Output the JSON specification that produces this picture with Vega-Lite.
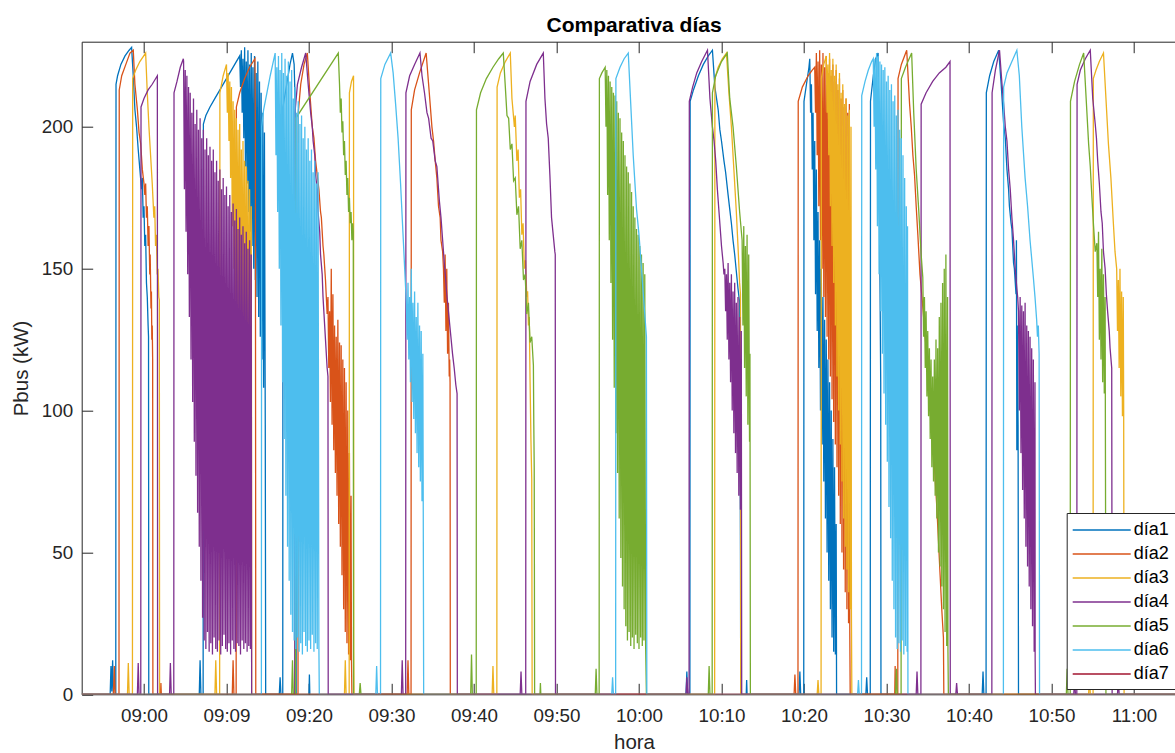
{
"$schema":"https://vega.github.io/schema/vega-lite/v6.json",
"usermeta":{"embedOptions":{"actions":false}},
"autosize":{"type":"none"},
"padding":{"left":81.7,"top":41.7,"right":0,"bottom":58.7},
"width":1093.3,
"height":652.6,
"background":"white",
"title":{"text":"Comparativa días","fontSize":21,"fontWeight":"bold","font":"Liberation Sans","color":"#000000","anchor":"middle","frame":"group","baseline":"alphabetic","offset":11.2,"dx":5.7,"dy":22.5},
"data":{"values":[
{"s":"día1","t":-7.55,"p":0},{"s":"día1","t":-4.1,"p":0},{"s":"día1","t":-4.0,"p":10},{"s":"día1","t":-3.9,"p":1},{"s":"día1","t":-3.8,"p":12},{"s":"día1","t":-3.7,"p":0},
{"s":"día1","t":-3.42,"p":0},{"s":"día1","t":-3.39,"p":215},{"s":"día1","t":-3.2,"p":218},{"s":"día1","t":-2.8,"p":222},{"s":"día1","t":-2.3,"p":225},{"s":"día1","t":-1.8,"p":227},{"s":"día1","t":-1.5,"p":228},{"s":"día1","t":-1.3,"p":218},{"s":"día1","t":-1.1,"p":206},{"s":"día1","t":-0.9,"p":200},{"s":"día1","t":-0.7,"p":192},{"s":"día1","t":-0.5,"p":185},{"s":"día1","t":-0.3,"p":178},{"s":"día1","t":-0.2,"p":182},{"s":"día1","t":-0.1,"p":168},{"s":"día1","t":0.0,"p":172},{"s":"día1","t":0.1,"p":158},{"s":"día1","t":0.2,"p":162},{"s":"día1","t":0.3,"p":145},{"s":"día1","t":0.4,"p":140},{"s":"día1","t":0.5,"p":130},{"s":"día1","t":0.55,"p":126},{"s":"día1","t":0.58,"p":0},
{"s":"día1","t":6.7,"p":0},{"s":"día1","t":6.8,"p":12},{"s":"día1","t":6.9,"p":0},
{"s":"día1","t":7.17,"p":0},{"s":"día1","t":7.2,"p":201},{"s":"día1","t":7.5,"p":204},{"s":"día1","t":8.0,"p":207},{"s":"día1","t":8.6,"p":210},{"s":"día1","t":9.2,"p":213},{"s":"día1","t":9.8,"p":216},{"s":"día1","t":10.4,"p":219},{"s":"día1","t":11.0,"p":222},{"s":"día1","t":11.6,"p":225},{"s":"día1","t":11.7,"p":214},{"s":"día1","t":11.8,"p":227},{"s":"día1","t":11.9,"p":205},{"s":"día1","t":12.0,"p":224},{"s":"día1","t":12.1,"p":196},{"s":"día1","t":12.2,"p":228},{"s":"día1","t":12.3,"p":186},{"s":"día1","t":12.4,"p":223},{"s":"día1","t":12.5,"p":180},{"s":"día1","t":12.6,"p":227},{"s":"día1","t":12.7,"p":170},{"s":"día1","t":12.8,"p":222},{"s":"día1","t":12.9,"p":163},{"s":"día1","t":13.0,"p":226},{"s":"día1","t":13.1,"p":158},{"s":"día1","t":13.2,"p":221},{"s":"día1","t":13.3,"p":150},{"s":"día1","t":13.4,"p":225},{"s":"día1","t":13.5,"p":146},{"s":"día1","t":13.6,"p":219},{"s":"día1","t":13.7,"p":140},{"s":"día1","t":13.8,"p":223},{"s":"día1","t":13.9,"p":133},{"s":"día1","t":14.0,"p":216},{"s":"día1","t":14.1,"p":126},{"s":"día1","t":14.2,"p":212},{"s":"día1","t":14.3,"p":118},{"s":"día1","t":14.4,"p":205},{"s":"día1","t":14.5,"p":108},{"s":"día1","t":14.6,"p":198},{"s":"día1","t":14.7,"p":95},{"s":"día1","t":14.75,"p":0},
{"s":"día1","t":16.4,"p":0},{"s":"día1","t":16.5,"p":6},{"s":"día1","t":16.6,"p":0},
{"s":"día1","t":16.82,"p":0},{"s":"día1","t":16.85,"p":207},{"s":"día1","t":17.3,"p":215},{"s":"día1","t":17.7,"p":222},{"s":"día1","t":18.0,"p":226},{"s":"día1","t":18.2,"p":222},{"s":"día1","t":18.4,"p":200},{"s":"día1","t":18.45,"p":0},
{"s":"día1","t":20.0,"p":0},{"s":"día1","t":20.05,"p":7},{"s":"día1","t":20.1,"p":0},
{"s":"día1","t":65.7,"p":0},{"s":"día1","t":65.8,"p":8},{"s":"día1","t":65.9,"p":0},
{"s":"día1","t":66.17,"p":0},{"s":"día1","t":66.2,"p":209},{"s":"día1","t":66.6,"p":213},{"s":"día1","t":67.2,"p":218},{"s":"día1","t":67.8,"p":222},{"s":"día1","t":68.4,"p":225},{"s":"día1","t":68.9,"p":227},{"s":"día1","t":69.2,"p":214},{"s":"día1","t":69.6,"p":206},{"s":"día1","t":69.8,"p":199},{"s":"día1","t":70.0,"p":195},{"s":"día1","t":70.3,"p":188},{"s":"día1","t":70.5,"p":184},{"s":"día1","t":70.8,"p":176},{"s":"día1","t":71.0,"p":171},{"s":"día1","t":71.2,"p":166},{"s":"día1","t":71.4,"p":160},{"s":"día1","t":71.6,"p":155},{"s":"día1","t":71.8,"p":149},{"s":"día1","t":72.0,"p":143},{"s":"día1","t":72.2,"p":138},{"s":"día1","t":72.25,"p":95},{"s":"día1","t":72.3,"p":50},{"s":"día1","t":72.33,"p":0},
{"s":"día1","t":73.0,"p":0},{"s":"día1","t":73.05,"p":5},{"s":"día1","t":73.1,"p":0},
{"s":"día1","t":79.4,"p":0},{"s":"día1","t":79.5,"p":8},{"s":"día1","t":79.6,"p":0},
{"s":"día1","t":79.97,"p":0},{"s":"día1","t":80.0,"p":209},{"s":"día1","t":80.3,"p":215},{"s":"día1","t":80.6,"p":221},{"s":"día1","t":80.7,"p":224},{"s":"día1","t":80.8,"p":205},{"s":"día1","t":80.9,"p":215},{"s":"día1","t":81.0,"p":185},{"s":"día1","t":81.1,"p":205},{"s":"día1","t":81.2,"p":160},{"s":"día1","t":81.3,"p":195},{"s":"día1","t":81.4,"p":141},{"s":"día1","t":81.5,"p":185},{"s":"día1","t":81.6,"p":128},{"s":"día1","t":81.7,"p":170},{"s":"día1","t":81.8,"p":115},{"s":"día1","t":81.9,"p":160},{"s":"día1","t":82.0,"p":100},{"s":"día1","t":82.1,"p":150},{"s":"día1","t":82.2,"p":88},{"s":"día1","t":82.3,"p":140},{"s":"día1","t":82.4,"p":75},{"s":"día1","t":82.5,"p":132},{"s":"día1","t":82.6,"p":62},{"s":"día1","t":82.7,"p":125},{"s":"día1","t":82.8,"p":50},{"s":"día1","t":82.9,"p":118},{"s":"día1","t":83.0,"p":40},{"s":"día1","t":83.1,"p":110},{"s":"día1","t":83.2,"p":30},{"s":"día1","t":83.3,"p":100},{"s":"día1","t":83.4,"p":20},{"s":"día1","t":83.5,"p":90},{"s":"día1","t":83.6,"p":15},{"s":"día1","t":83.7,"p":80},{"s":"día1","t":83.8,"p":14},{"s":"día1","t":83.9,"p":60},{"s":"día1","t":83.95,"p":0},
{"s":"día1","t":87.5,"p":0},{"s":"día1","t":87.6,"p":6},{"s":"día1","t":87.7,"p":0},
{"s":"día1","t":88.03,"p":0},{"s":"día1","t":88.06,"p":209},{"s":"día1","t":88.4,"p":218},{"s":"día1","t":88.7,"p":224},{"s":"día1","t":88.98,"p":226},{"s":"día1","t":89.1,"p":190},{"s":"día1","t":89.2,"p":150},{"s":"día1","t":89.3,"p":110},{"s":"día1","t":89.33,"p":0},
{"s":"día1","t":101.6,"p":0},{"s":"día1","t":101.7,"p":8},{"s":"día1","t":101.8,"p":0},
{"s":"día1","t":102.07,"p":0},{"s":"día1","t":102.1,"p":212},{"s":"día1","t":102.5,"p":218},{"s":"día1","t":103.0,"p":223},{"s":"día1","t":103.6,"p":227},{"s":"día1","t":103.9,"p":215},{"s":"día1","t":104.2,"p":201},{"s":"día1","t":104.4,"p":196},{"s":"día1","t":104.6,"p":185},{"s":"día1","t":104.8,"p":178},{"s":"día1","t":104.9,"p":172},{"s":"día1","t":105.1,"p":166},{"s":"día1","t":105.2,"p":164},{"s":"día1","t":105.4,"p":152},{"s":"día1","t":105.5,"p":150},{"s":"día1","t":105.7,"p":141},{"s":"día1","t":105.75,"p":160},{"s":"día1","t":105.8,"p":86},{"s":"día1","t":105.85,"p":130},{"s":"día1","t":105.95,"p":95},{"s":"día1","t":106.0,"p":0},
{"s":"día1","t":124.97,"p":0},

{"s":"día2","t":-7.55,"p":0},{"s":"día2","t":-3.7,"p":0},{"s":"día2","t":-3.6,"p":10},{"s":"día2","t":-3.5,"p":0},
{"s":"día2","t":-3.03,"p":0},{"s":"día2","t":-3.0,"p":213},{"s":"día2","t":-2.7,"p":218},{"s":"día2","t":-2.2,"p":222},{"s":"día2","t":-1.7,"p":226},{"s":"día2","t":-1.3,"p":227},{"s":"día2","t":-1.1,"p":215},{"s":"día2","t":-0.8,"p":206},{"s":"día2","t":-0.6,"p":198},{"s":"día2","t":-0.4,"p":194},{"s":"día2","t":-0.2,"p":185},{"s":"día2","t":0.0,"p":180},{"s":"día2","t":0.1,"p":176},{"s":"día2","t":0.2,"p":180},{"s":"día2","t":0.3,"p":168},{"s":"día2","t":0.4,"p":172},{"s":"día2","t":0.5,"p":158},{"s":"día2","t":0.6,"p":165},{"s":"día2","t":0.7,"p":148},{"s":"día2","t":0.75,"p":155},{"s":"día2","t":0.85,"p":136},{"s":"día2","t":0.9,"p":142},{"s":"día2","t":0.95,"p":125},{"s":"día2","t":1.0,"p":130},{"s":"día2","t":1.05,"p":118},{"s":"día2","t":1.08,"p":0},
{"s":"día2","t":2.0,"p":0},{"s":"día2","t":2.05,"p":4},{"s":"día2","t":2.1,"p":0},
{"s":"día2","t":10.7,"p":0},{"s":"día2","t":10.8,"p":12},{"s":"día2","t":10.9,"p":0},
{"s":"día2","t":11.17,"p":0},{"s":"día2","t":11.2,"p":207},{"s":"día2","t":11.6,"p":212},{"s":"día2","t":12.2,"p":217},{"s":"día2","t":12.8,"p":221},{"s":"día2","t":13.45,"p":224},{"s":"día2","t":13.5,"p":200},{"s":"día2","t":13.55,"p":0},
{"s":"día2","t":18.67,"p":0},{"s":"día2","t":18.7,"p":205},{"s":"día2","t":19.0,"p":215},{"s":"día2","t":19.4,"p":222},{"s":"día2","t":19.8,"p":226},{"s":"día2","t":20.1,"p":212},{"s":"día2","t":20.4,"p":200},{"s":"día2","t":20.6,"p":196},{"s":"día2","t":20.8,"p":188},{"s":"día2","t":21.0,"p":183},{"s":"día2","t":21.2,"p":178},{"s":"día2","t":21.4,"p":170},{"s":"día2","t":21.5,"p":168},{"s":"día2","t":21.7,"p":158},{"s":"día2","t":21.8,"p":155},{"s":"día2","t":22.0,"p":146},{"s":"día2","t":22.1,"p":140},{"s":"día2","t":22.2,"p":134},{"s":"día2","t":22.3,"p":140},{"s":"día2","t":22.4,"p":115},{"s":"día2","t":22.5,"p":135},{"s":"día2","t":22.6,"p":103},{"s":"día2","t":22.7,"p":150},{"s":"día2","t":22.8,"p":95},{"s":"día2","t":22.9,"p":141},{"s":"día2","t":23.0,"p":86},{"s":"día2","t":23.1,"p":130},{"s":"día2","t":23.2,"p":78},{"s":"día2","t":23.3,"p":126},{"s":"día2","t":23.4,"p":70},{"s":"día2","t":23.5,"p":132},{"s":"día2","t":23.6,"p":60},{"s":"día2","t":23.7,"p":124},{"s":"día2","t":23.8,"p":52},{"s":"día2","t":23.9,"p":123},{"s":"día2","t":24.0,"p":42},{"s":"día2","t":24.1,"p":118},{"s":"día2","t":24.2,"p":30},{"s":"día2","t":24.3,"p":115},{"s":"día2","t":24.4,"p":22},{"s":"día2","t":24.5,"p":110},{"s":"día2","t":24.6,"p":18},{"s":"día2","t":24.7,"p":100},{"s":"día2","t":24.8,"p":14},{"s":"día2","t":24.9,"p":85},{"s":"día2","t":25.0,"p":12},{"s":"día2","t":25.1,"p":70},{"s":"día2","t":25.15,"p":12},{"s":"día2","t":25.2,"p":0},
{"s":"día2","t":31.9,"p":0},{"s":"día2","t":32.0,"p":12},{"s":"día2","t":32.1,"p":0},
{"s":"día2","t":32.37,"p":0},{"s":"día2","t":32.4,"p":206},{"s":"día2","t":32.8,"p":213},{"s":"día2","t":33.4,"p":219},{"s":"día2","t":34.2,"p":226},{"s":"día2","t":34.5,"p":215},{"s":"día2","t":34.9,"p":200},{"s":"día2","t":35.1,"p":195},{"s":"día2","t":35.3,"p":188},{"s":"día2","t":35.5,"p":182},{"s":"día2","t":35.7,"p":172},{"s":"día2","t":35.9,"p":168},{"s":"día2","t":36.0,"p":160},{"s":"día2","t":36.2,"p":156},{"s":"día2","t":36.3,"p":150},{"s":"día2","t":36.4,"p":138},{"s":"día2","t":36.5,"p":155},{"s":"día2","t":36.6,"p":128},{"s":"día2","t":36.7,"p":150},{"s":"día2","t":36.8,"p":120},{"s":"día2","t":36.9,"p":138},{"s":"día2","t":37.0,"p":112},{"s":"día2","t":37.05,"p":118},{"s":"día2","t":37.1,"p":110},{"s":"día2","t":37.13,"p":0},
{"s":"día2","t":78.8,"p":0},{"s":"día2","t":78.9,"p":7},{"s":"día2","t":79.0,"p":0},
{"s":"día2","t":79.27,"p":0},{"s":"día2","t":79.3,"p":209},{"s":"día2","t":79.8,"p":214},{"s":"día2","t":80.5,"p":218},{"s":"día2","t":81.0,"p":220},{"s":"día2","t":81.3,"p":221},{"s":"día2","t":81.4,"p":205},{"s":"día2","t":81.5,"p":226},{"s":"día2","t":81.6,"p":190},{"s":"día2","t":81.7,"p":223},{"s":"día2","t":81.8,"p":172},{"s":"día2","t":81.9,"p":227},{"s":"día2","t":82.0,"p":160},{"s":"día2","t":82.1,"p":222},{"s":"día2","t":82.2,"p":150},{"s":"día2","t":82.3,"p":226},{"s":"día2","t":82.4,"p":140},{"s":"día2","t":82.5,"p":221},{"s":"día2","t":82.6,"p":133},{"s":"día2","t":82.7,"p":225},{"s":"día2","t":82.8,"p":126},{"s":"día2","t":82.9,"p":219},{"s":"día2","t":83.0,"p":118},{"s":"día2","t":83.1,"p":224},{"s":"día2","t":83.2,"p":112},{"s":"día2","t":83.3,"p":218},{"s":"día2","t":83.4,"p":104},{"s":"día2","t":83.5,"p":222},{"s":"día2","t":83.6,"p":96},{"s":"día2","t":83.7,"p":216},{"s":"día2","t":83.8,"p":88},{"s":"día2","t":83.9,"p":220},{"s":"día2","t":84.0,"p":80},{"s":"día2","t":84.1,"p":213},{"s":"día2","t":84.2,"p":70},{"s":"día2","t":84.3,"p":217},{"s":"día2","t":84.4,"p":60},{"s":"día2","t":84.5,"p":210},{"s":"día2","t":84.6,"p":50},{"s":"día2","t":84.7,"p":213},{"s":"día2","t":84.8,"p":44},{"s":"día2","t":84.9,"p":207},{"s":"día2","t":85.0,"p":36},{"s":"día2","t":85.1,"p":210},{"s":"día2","t":85.2,"p":30},{"s":"día2","t":85.3,"p":205},{"s":"día2","t":85.4,"p":25},{"s":"día2","t":85.5,"p":208},{"s":"día2","t":85.55,"p":22},{"s":"día2","t":85.6,"p":0},
{"s":"día2","t":91.0,"p":0},{"s":"día2","t":91.05,"p":10},{"s":"día2","t":91.1,"p":0},
{"s":"día2","t":91.37,"p":0},{"s":"día2","t":91.4,"p":217},{"s":"día2","t":91.8,"p":222},{"s":"día2","t":92.45,"p":227},{"s":"día2","t":92.8,"p":208},{"s":"día2","t":93.0,"p":200},{"s":"día2","t":93.2,"p":190},{"s":"día2","t":93.4,"p":183},{"s":"día2","t":93.6,"p":172},{"s":"día2","t":93.8,"p":162},{"s":"día2","t":94.06,"p":148},{"s":"día2","t":94.3,"p":140},{"s":"día2","t":94.5,"p":133},{"s":"día2","t":94.8,"p":122},{"s":"día2","t":95.0,"p":115},{"s":"día2","t":95.2,"p":106},{"s":"día2","t":95.4,"p":100},{"s":"día2","t":95.7,"p":88},{"s":"día2","t":95.9,"p":76},{"s":"día2","t":96.1,"p":66},{"s":"día2","t":96.3,"p":54},{"s":"día2","t":96.5,"p":42},{"s":"día2","t":96.7,"p":30},{"s":"día2","t":96.9,"p":20},{"s":"día2","t":96.95,"p":0},
{"s":"día2","t":124.97,"p":0},

{"s":"día3","t":-7.55,"p":0},{"s":"día3","t":-2.0,"p":0},{"s":"día3","t":-1.9,"p":11},{"s":"día3","t":-1.8,"p":0},
{"s":"día3","t":-1.4,"p":0},{"s":"día3","t":-1.37,"p":217},{"s":"día3","t":-1.0,"p":220},{"s":"día3","t":-0.5,"p":223},{"s":"día3","t":0.2,"p":226},{"s":"día3","t":0.4,"p":212},{"s":"día3","t":0.6,"p":200},{"s":"día3","t":0.8,"p":190},{"s":"día3","t":1.0,"p":180},{"s":"día3","t":1.2,"p":168},{"s":"día3","t":1.3,"p":172},{"s":"día3","t":1.4,"p":158},{"s":"día3","t":1.5,"p":162},{"s":"día3","t":1.6,"p":148},{"s":"día3","t":1.7,"p":150},{"s":"día3","t":1.8,"p":140},{"s":"día3","t":1.86,"p":139},{"s":"día3","t":1.89,"p":0},
{"s":"día3","t":8.6,"p":0},{"s":"día3","t":8.7,"p":12},{"s":"día3","t":8.8,"p":0},
{"s":"día3","t":9.17,"p":0},{"s":"día3","t":9.2,"p":212},{"s":"día3","t":9.6,"p":218},{"s":"día3","t":10.0,"p":222},{"s":"día3","t":10.1,"p":205},{"s":"día3","t":10.2,"p":219},{"s":"día3","t":10.3,"p":195},{"s":"día3","t":10.4,"p":216},{"s":"día3","t":10.5,"p":182},{"s":"día3","t":10.6,"p":214},{"s":"día3","t":10.7,"p":165},{"s":"día3","t":10.8,"p":209},{"s":"día3","t":10.9,"p":150},{"s":"día3","t":11.0,"p":206},{"s":"día3","t":11.1,"p":139},{"s":"día3","t":11.2,"p":203},{"s":"día3","t":11.3,"p":134},{"s":"día3","t":11.4,"p":199},{"s":"día3","t":11.5,"p":128},{"s":"día3","t":11.6,"p":201},{"s":"día3","t":11.7,"p":125},{"s":"día3","t":11.8,"p":192},{"s":"día3","t":11.9,"p":121},{"s":"día3","t":12.0,"p":195},{"s":"día3","t":12.1,"p":117},{"s":"día3","t":12.2,"p":188},{"s":"día3","t":12.3,"p":112},{"s":"día3","t":12.4,"p":186},{"s":"día3","t":12.5,"p":110},{"s":"día3","t":12.6,"p":181},{"s":"día3","t":12.7,"p":108},{"s":"día3","t":12.8,"p":178},{"s":"día3","t":12.9,"p":106},{"s":"día3","t":13.0,"p":172},{"s":"día3","t":13.03,"p":106},{"s":"día3","t":13.05,"p":0},
{"s":"día3","t":24.3,"p":0},{"s":"día3","t":24.4,"p":12},{"s":"día3","t":24.5,"p":0},
{"s":"día3","t":24.87,"p":0},{"s":"día3","t":24.9,"p":212},{"s":"día3","t":25.15,"p":216},{"s":"día3","t":25.4,"p":218},{"s":"día3","t":25.43,"p":15},{"s":"día3","t":25.46,"p":0},
{"s":"día3","t":42.2,"p":0},{"s":"día3","t":42.3,"p":10},{"s":"día3","t":42.4,"p":0},
{"s":"día3","t":42.77,"p":0},{"s":"día3","t":42.8,"p":214},{"s":"día3","t":43.2,"p":219},{"s":"día3","t":43.8,"p":223},{"s":"día3","t":44.4,"p":226},{"s":"día3","t":44.6,"p":210},{"s":"día3","t":44.9,"p":200},{"s":"día3","t":45.0,"p":204},{"s":"día3","t":45.2,"p":188},{"s":"día3","t":45.35,"p":192},{"s":"día3","t":45.5,"p":175},{"s":"día3","t":45.65,"p":178},{"s":"día3","t":45.8,"p":162},{"s":"día3","t":45.95,"p":166},{"s":"día3","t":46.1,"p":150},{"s":"día3","t":46.25,"p":153},{"s":"día3","t":46.4,"p":140},{"s":"día3","t":46.5,"p":142},{"s":"día3","t":46.6,"p":130},{"s":"día3","t":46.7,"p":133},{"s":"día3","t":46.8,"p":110},{"s":"día3","t":46.9,"p":90},{"s":"día3","t":47.0,"p":76},{"s":"día3","t":47.05,"p":0},
{"s":"día3","t":69.17,"p":0},{"s":"día3","t":69.2,"p":217},{"s":"día3","t":69.6,"p":221},{"s":"día3","t":70.1,"p":224},{"s":"día3","t":70.6,"p":226},{"s":"día3","t":70.9,"p":212},{"s":"día3","t":71.2,"p":200},{"s":"día3","t":71.5,"p":185},{"s":"día3","t":71.8,"p":170},{"s":"día3","t":72.0,"p":158},{"s":"día3","t":72.2,"p":145},{"s":"día3","t":72.3,"p":141},{"s":"día3","t":72.33,"p":0},
{"s":"día3","t":81.6,"p":0},{"s":"día3","t":81.7,"p":5},{"s":"día3","t":81.8,"p":0},
{"s":"día3","t":82.07,"p":0},{"s":"día3","t":82.1,"p":217},{"s":"día3","t":82.4,"p":222},{"s":"día3","t":82.7,"p":225},{"s":"día3","t":82.8,"p":205},{"s":"día3","t":82.9,"p":222},{"s":"día3","t":83.0,"p":190},{"s":"día3","t":83.1,"p":226},{"s":"día3","t":83.2,"p":172},{"s":"día3","t":83.3,"p":220},{"s":"día3","t":83.4,"p":158},{"s":"día3","t":83.5,"p":224},{"s":"día3","t":83.6,"p":145},{"s":"día3","t":83.7,"p":218},{"s":"día3","t":83.8,"p":130},{"s":"día3","t":83.9,"p":222},{"s":"día3","t":84.0,"p":112},{"s":"día3","t":84.1,"p":215},{"s":"día3","t":84.2,"p":100},{"s":"día3","t":84.3,"p":219},{"s":"día3","t":84.4,"p":88},{"s":"día3","t":84.5,"p":212},{"s":"día3","t":84.6,"p":75},{"s":"día3","t":84.7,"p":215},{"s":"día3","t":84.8,"p":62},{"s":"día3","t":84.9,"p":208},{"s":"día3","t":85.0,"p":52},{"s":"día3","t":85.1,"p":210},{"s":"día3","t":85.2,"p":44},{"s":"día3","t":85.3,"p":204},{"s":"día3","t":85.4,"p":36},{"s":"día3","t":85.5,"p":206},{"s":"día3","t":85.6,"p":30},{"s":"día3","t":85.7,"p":200},{"s":"día3","t":85.75,"p":28},{"s":"día3","t":85.8,"p":0},
{"s":"día3","t":114.5,"p":0},{"s":"día3","t":114.6,"p":8},{"s":"día3","t":114.7,"p":0},
{"s":"día3","t":115.04,"p":0},{"s":"día3","t":115.07,"p":217},{"s":"día3","t":115.4,"p":220},{"s":"día3","t":115.8,"p":223},{"s":"día3","t":116.3,"p":226},{"s":"día3","t":116.6,"p":210},{"s":"día3","t":116.9,"p":194},{"s":"día3","t":117.2,"p":182},{"s":"día3","t":117.5,"p":166},{"s":"día3","t":117.7,"p":156},{"s":"día3","t":117.9,"p":150},{"s":"día3","t":118.0,"p":128},{"s":"día3","t":118.1,"p":146},{"s":"día3","t":118.2,"p":115},{"s":"día3","t":118.3,"p":150},{"s":"día3","t":118.4,"p":105},{"s":"día3","t":118.5,"p":142},{"s":"día3","t":118.6,"p":98},{"s":"día3","t":118.7,"p":140},{"s":"día3","t":118.75,"p":100},{"s":"día3","t":118.8,"p":0},
{"s":"día3","t":124.97,"p":0},

{"s":"día4","t":-7.55,"p":0},{"s":"día4","t":-0.8,"p":0},{"s":"día4","t":-0.7,"p":11},{"s":"día4","t":-0.6,"p":0},
{"s":"día4","t":-0.39,"p":0},{"s":"día4","t":-0.36,"p":207},{"s":"día4","t":0.0,"p":210},{"s":"día4","t":0.5,"p":213},{"s":"día4","t":1.0,"p":215},{"s":"día4","t":1.62,"p":218},{"s":"día4","t":1.65,"p":0},
{"s":"día4","t":3.1,"p":0},{"s":"día4","t":3.2,"p":11},{"s":"día4","t":3.3,"p":0},
{"s":"día4","t":3.61,"p":0},{"s":"día4","t":3.64,"p":212},{"s":"día4","t":4.0,"p":216},{"s":"día4","t":4.4,"p":221},{"s":"día4","t":4.77,"p":224},
{"s":"día4","t":4.8,"p":223},{"s":"día4","t":4.9,"p":178},{"s":"día4","t":5.0,"p":220},{"s":"día4","t":5.1,"p":163},{"s":"día4","t":5.2,"p":218},{"s":"día4","t":5.3,"p":148},{"s":"día4","t":5.4,"p":214},{"s":"día4","t":5.5,"p":133},{"s":"día4","t":5.6,"p":212},{"s":"día4","t":5.7,"p":118},{"s":"día4","t":5.8,"p":205},{"s":"día4","t":5.9,"p":103},{"s":"día4","t":6.0,"p":210},{"s":"día4","t":6.1,"p":89},{"s":"día4","t":6.2,"p":201},{"s":"día4","t":6.3,"p":77},{"s":"día4","t":6.4,"p":206},{"s":"día4","t":6.5,"p":64},{"s":"día4","t":6.6,"p":199},{"s":"día4","t":6.7,"p":52},{"s":"día4","t":6.8,"p":203},{"s":"día4","t":6.9,"p":40},{"s":"día4","t":7.0,"p":196},{"s":"día4","t":7.1,"p":27},{"s":"día4","t":7.2,"p":199},{"s":"día4","t":7.3,"p":19},{"s":"día4","t":7.4,"p":192},{"s":"día4","t":7.5,"p":16},{"s":"día4","t":7.6,"p":196},{"s":"día4","t":7.7,"p":22},{"s":"día4","t":7.8,"p":190},{"s":"día4","t":7.9,"p":15},{"s":"día4","t":8.0,"p":193},{"s":"día4","t":8.1,"p":18},{"s":"día4","t":8.2,"p":188},{"s":"día4","t":8.3,"p":14},{"s":"día4","t":8.4,"p":192},{"s":"día4","t":8.5,"p":20},{"s":"día4","t":8.6,"p":184},{"s":"día4","t":8.7,"p":16},{"s":"día4","t":8.8,"p":188},{"s":"día4","t":8.9,"p":15},{"s":"día4","t":9.0,"p":181},{"s":"día4","t":9.1,"p":19},{"s":"día4","t":9.2,"p":185},{"s":"día4","t":9.3,"p":14},{"s":"día4","t":9.4,"p":178},{"s":"día4","t":9.5,"p":17},{"s":"día4","t":9.6,"p":182},{"s":"día4","t":9.7,"p":21},{"s":"día4","t":9.8,"p":176},{"s":"día4","t":9.9,"p":16},{"s":"día4","t":10.0,"p":179},{"s":"día4","t":10.1,"p":15},{"s":"día4","t":10.2,"p":172},{"s":"día4","t":10.3,"p":18},{"s":"día4","t":10.4,"p":176},{"s":"día4","t":10.5,"p":14},{"s":"día4","t":10.6,"p":170},{"s":"día4","t":10.7,"p":19},{"s":"día4","t":10.8,"p":173},{"s":"día4","t":10.9,"p":16},{"s":"día4","t":11.0,"p":167},{"s":"día4","t":11.1,"p":15},{"s":"día4","t":11.2,"p":171},{"s":"día4","t":11.3,"p":18},{"s":"día4","t":11.4,"p":164},{"s":"día4","t":11.5,"p":17},{"s":"día4","t":11.6,"p":168},{"s":"día4","t":11.7,"p":14},{"s":"día4","t":11.8,"p":162},{"s":"día4","t":11.9,"p":19},{"s":"día4","t":12.0,"p":165},{"s":"día4","t":12.1,"p":16},{"s":"día4","t":12.2,"p":159},{"s":"día4","t":12.3,"p":18},{"s":"día4","t":12.4,"p":163},{"s":"día4","t":12.5,"p":15},{"s":"día4","t":12.6,"p":157},{"s":"día4","t":12.7,"p":17},{"s":"día4","t":12.8,"p":160},{"s":"día4","t":12.9,"p":16},{"s":"día4","t":13.0,"p":155},{"s":"día4","t":13.05,"p":0},
{"s":"día4","t":18.27,"p":0},{"s":"día4","t":18.3,"p":205},{"s":"día4","t":18.6,"p":215},{"s":"día4","t":19.1,"p":221},{"s":"día4","t":19.6,"p":226},{"s":"día4","t":19.9,"p":215},{"s":"día4","t":20.2,"p":205},{"s":"día4","t":20.4,"p":200},{"s":"día4","t":20.5,"p":195},{"s":"día4","t":20.7,"p":190},{"s":"día4","t":20.8,"p":183},{"s":"día4","t":21.0,"p":178},{"s":"día4","t":21.1,"p":170},{"s":"día4","t":21.3,"p":163},{"s":"día4","t":21.4,"p":155},{"s":"día4","t":21.6,"p":148},{"s":"día4","t":21.7,"p":140},{"s":"día4","t":21.9,"p":130},{"s":"día4","t":22.0,"p":125},{"s":"día4","t":22.2,"p":115},{"s":"día4","t":22.3,"p":112},{"s":"día4","t":22.33,"p":0},
{"s":"día4","t":31.2,"p":0},{"s":"día4","t":31.3,"p":12},{"s":"día4","t":31.4,"p":0},
{"s":"día4","t":31.72,"p":0},{"s":"día4","t":31.75,"p":212},{"s":"día4","t":32.2,"p":218},{"s":"día4","t":32.8,"p":222},{"s":"día4","t":33.45,"p":226},{"s":"día4","t":33.7,"p":218},{"s":"día4","t":34.0,"p":212},{"s":"día4","t":34.3,"p":205},{"s":"día4","t":34.5,"p":203},{"s":"día4","t":34.8,"p":196},{"s":"día4","t":35.0,"p":195},{"s":"día4","t":35.3,"p":188},{"s":"día4","t":35.5,"p":186},{"s":"día4","t":35.8,"p":174},{"s":"día4","t":36.0,"p":168},{"s":"día4","t":36.2,"p":160},{"s":"día4","t":36.4,"p":152},{"s":"día4","t":36.55,"p":147},{"s":"día4","t":36.7,"p":141},{"s":"día4","t":36.9,"p":135},{"s":"día4","t":37.2,"p":126},{"s":"día4","t":37.4,"p":120},{"s":"día4","t":37.6,"p":115},{"s":"día4","t":37.8,"p":109},{"s":"día4","t":37.95,"p":106},{"s":"día4","t":37.98,"p":0},
{"s":"día4","t":45.6,"p":0},{"s":"día4","t":45.7,"p":8},{"s":"día4","t":45.8,"p":0},
{"s":"día4","t":46.27,"p":0},{"s":"día4","t":46.3,"p":209},{"s":"día4","t":46.8,"p":216},{"s":"día4","t":47.6,"p":222},{"s":"día4","t":48.4,"p":226},{"s":"día4","t":48.6,"p":210},{"s":"día4","t":48.8,"p":201},{"s":"día4","t":49.0,"p":196},{"s":"día4","t":49.2,"p":183},{"s":"día4","t":49.4,"p":168},{"s":"día4","t":49.6,"p":162},{"s":"día4","t":49.8,"p":156},{"s":"día4","t":49.85,"p":155},{"s":"día4","t":49.88,"p":0},
{"s":"día4","t":65.7,"p":0},{"s":"día4","t":65.8,"p":6},{"s":"día4","t":65.9,"p":0},
{"s":"día4","t":66.07,"p":0},{"s":"día4","t":66.1,"p":209},{"s":"día4","t":66.5,"p":214},{"s":"día4","t":67.0,"p":219},{"s":"día4","t":67.6,"p":223},{"s":"día4","t":68.3,"p":227},{"s":"día4","t":68.6,"p":210},{"s":"día4","t":68.9,"p":200},{"s":"día4","t":69.1,"p":195},{"s":"día4","t":69.3,"p":188},{"s":"día4","t":69.5,"p":178},{"s":"día4","t":69.7,"p":170},{"s":"día4","t":69.9,"p":162},{"s":"día4","t":70.0,"p":158},{"s":"día4","t":70.2,"p":152},{"s":"día4","t":70.3,"p":148},{"s":"día4","t":70.4,"p":150},{"s":"día4","t":70.5,"p":135},{"s":"día4","t":70.6,"p":148},{"s":"día4","t":70.7,"p":125},{"s":"día4","t":70.8,"p":152},{"s":"día4","t":70.9,"p":118},{"s":"día4","t":71.0,"p":145},{"s":"día4","t":71.1,"p":110},{"s":"día4","t":71.2,"p":148},{"s":"día4","t":71.3,"p":100},{"s":"día4","t":71.4,"p":142},{"s":"día4","t":71.5,"p":92},{"s":"día4","t":71.6,"p":145},{"s":"día4","t":71.7,"p":85},{"s":"día4","t":71.8,"p":138},{"s":"día4","t":71.9,"p":78},{"s":"día4","t":72.0,"p":140},{"s":"día4","t":72.1,"p":70},{"s":"día4","t":72.2,"p":133},{"s":"día4","t":72.3,"p":65},{"s":"día4","t":72.4,"p":128},{"s":"día4","t":72.45,"p":0},
{"s":"día4","t":93.6,"p":0},{"s":"día4","t":93.7,"p":8},{"s":"día4","t":93.8,"p":0},
{"s":"día4","t":94.17,"p":0},{"s":"día4","t":94.2,"p":208},{"s":"día4","t":94.8,"p":212},{"s":"día4","t":95.6,"p":216},{"s":"día4","t":96.4,"p":219},{"s":"día4","t":97.2,"p":221},{"s":"día4","t":97.7,"p":223},{"s":"día4","t":97.73,"p":0},
{"s":"día4","t":98.4,"p":0},{"s":"día4","t":98.5,"p":4},{"s":"día4","t":98.6,"p":0},
{"s":"día4","t":102.77,"p":0},{"s":"día4","t":102.8,"p":212},{"s":"día4","t":103.2,"p":220},{"s":"día4","t":103.7,"p":227},{"s":"día4","t":104.0,"p":215},{"s":"día4","t":104.2,"p":208},{"s":"día4","t":104.4,"p":200},{"s":"día4","t":104.6,"p":195},{"s":"día4","t":104.8,"p":185},{"s":"día4","t":105.0,"p":178},{"s":"día4","t":105.2,"p":168},{"s":"día4","t":105.4,"p":160},{"s":"día4","t":105.6,"p":150},{"s":"día4","t":105.8,"p":143},{"s":"día4","t":105.9,"p":140},{"s":"día4","t":106.0,"p":135},{"s":"día4","t":106.1,"p":100},{"s":"día4","t":106.2,"p":140},{"s":"día4","t":106.3,"p":85},{"s":"día4","t":106.4,"p":137},{"s":"día4","t":106.5,"p":72},{"s":"día4","t":106.6,"p":135},{"s":"día4","t":106.7,"p":62},{"s":"día4","t":106.8,"p":138},{"s":"día4","t":106.9,"p":52},{"s":"día4","t":107.0,"p":130},{"s":"día4","t":107.1,"p":45},{"s":"día4","t":107.2,"p":128},{"s":"día4","t":107.3,"p":38},{"s":"día4","t":107.4,"p":126},{"s":"día4","t":107.5,"p":30},{"s":"día4","t":107.6,"p":122},{"s":"día4","t":107.7,"p":24},{"s":"día4","t":107.8,"p":118},{"s":"día4","t":107.9,"p":15},{"s":"día4","t":108.0,"p":110},{"s":"día4","t":108.02,"p":12},{"s":"día4","t":108.05,"p":0},
{"s":"día4","t":112.7,"p":0},{"s":"día4","t":112.8,"p":6},{"s":"día4","t":112.9,"p":0},
{"s":"día4","t":113.07,"p":0},{"s":"día4","t":113.1,"p":215},{"s":"día4","t":113.5,"p":220},{"s":"día4","t":114.1,"p":224},{"s":"día4","t":114.7,"p":227},{"s":"día4","t":115.0,"p":210},{"s":"día4","t":115.3,"p":201},{"s":"día4","t":115.45,"p":196},{"s":"día4","t":115.6,"p":188},{"s":"día4","t":115.8,"p":180},{"s":"día4","t":116.0,"p":170},{"s":"día4","t":116.15,"p":166},{"s":"día4","t":116.3,"p":156},{"s":"día4","t":116.5,"p":150},{"s":"día4","t":116.65,"p":141},{"s":"día4","t":116.8,"p":135},{"s":"día4","t":117.0,"p":128},{"s":"día4","t":117.1,"p":122},{"s":"día4","t":117.3,"p":115},{"s":"día4","t":117.35,"p":0},
{"s":"día4","t":118.0,"p":0},{"s":"día4","t":118.1,"p":6},{"s":"día4","t":118.2,"p":0},
{"s":"día4","t":124.97,"p":0},

{"s":"día5","t":-7.55,"p":0},{"s":"día5","t":17.9,"p":0},{"s":"día5","t":18.0,"p":12},{"s":"día5","t":18.1,"p":0},
{"s":"día5","t":18.37,"p":0},{"s":"día5","t":18.4,"p":203},{"s":"día5","t":23.55,"p":226},{"s":"día5","t":23.7,"p":215},{"s":"día5","t":23.8,"p":205},{"s":"día5","t":23.9,"p":210},{"s":"día5","t":24.0,"p":198},{"s":"día5","t":24.1,"p":202},{"s":"día5","t":24.2,"p":190},{"s":"día5","t":24.3,"p":195},{"s":"día5","t":24.4,"p":183},{"s":"día5","t":24.5,"p":188},{"s":"día5","t":24.6,"p":176},{"s":"día5","t":24.7,"p":182},{"s":"día5","t":24.8,"p":170},{"s":"día5","t":24.9,"p":175},{"s":"día5","t":25.0,"p":166},{"s":"día5","t":25.1,"p":170},{"s":"día5","t":25.2,"p":160},{"s":"día5","t":25.3,"p":166},{"s":"día5","t":25.37,"p":163},{"s":"día5","t":25.4,"p":0},
{"s":"día5","t":26.1,"p":0},{"s":"día5","t":26.2,"p":4},{"s":"día5","t":26.3,"p":0},
{"s":"día5","t":39.6,"p":0},{"s":"día5","t":39.7,"p":14},{"s":"día5","t":39.8,"p":0},
{"s":"día5","t":40.27,"p":0},{"s":"día5","t":40.3,"p":206},{"s":"día5","t":40.8,"p":212},{"s":"día5","t":41.5,"p":217},{"s":"día5","t":42.3,"p":221},{"s":"día5","t":43.0,"p":224},{"s":"día5","t":43.55,"p":226},{"s":"día5","t":43.8,"p":214},{"s":"día5","t":44.0,"p":204},{"s":"día5","t":44.2,"p":203},{"s":"día5","t":44.4,"p":192},{"s":"día5","t":44.6,"p":194},{"s":"día5","t":44.8,"p":181},{"s":"día5","t":45.0,"p":182},{"s":"día5","t":45.2,"p":169},{"s":"día5","t":45.4,"p":172},{"s":"día5","t":45.6,"p":157},{"s":"día5","t":45.8,"p":160},{"s":"día5","t":46.0,"p":146},{"s":"día5","t":46.2,"p":148},{"s":"día5","t":46.4,"p":134},{"s":"día5","t":46.6,"p":138},{"s":"día5","t":46.8,"p":124},{"s":"día5","t":47.0,"p":126},{"s":"día5","t":47.2,"p":116},{"s":"día5","t":47.25,"p":95},{"s":"día5","t":47.3,"p":80},{"s":"día5","t":47.35,"p":0},
{"s":"día5","t":48.0,"p":0},{"s":"día5","t":48.05,"p":4},{"s":"día5","t":48.1,"p":0},
{"s":"día5","t":54.7,"p":0},{"s":"día5","t":54.8,"p":9},{"s":"día5","t":54.9,"p":0},
{"s":"día5","t":55.17,"p":0},{"s":"día5","t":55.2,"p":217},{"s":"día5","t":55.5,"p":219},{"s":"día5","t":55.9,"p":221},{"s":"día5","t":56.0,"p":200},{"s":"día5","t":56.1,"p":220},{"s":"día5","t":56.2,"p":176},{"s":"día5","t":56.3,"p":218},{"s":"día5","t":56.4,"p":160},{"s":"día5","t":56.5,"p":216},{"s":"día5","t":56.6,"p":145},{"s":"día5","t":56.7,"p":214},{"s":"día5","t":56.8,"p":125},{"s":"día5","t":56.9,"p":212},{"s":"día5","t":57.0,"p":108},{"s":"día5","t":57.1,"p":211},{"s":"día5","t":57.2,"p":92},{"s":"día5","t":57.3,"p":209},{"s":"día5","t":57.4,"p":78},{"s":"día5","t":57.5,"p":205},{"s":"día5","t":57.6,"p":62},{"s":"día5","t":57.7,"p":203},{"s":"día5","t":57.8,"p":48},{"s":"día5","t":57.9,"p":198},{"s":"día5","t":58.0,"p":38},{"s":"día5","t":58.1,"p":195},{"s":"día5","t":58.2,"p":30},{"s":"día5","t":58.3,"p":190},{"s":"día5","t":58.4,"p":24},{"s":"día5","t":58.5,"p":186},{"s":"día5","t":58.6,"p":19},{"s":"día5","t":58.7,"p":184},{"s":"día5","t":58.8,"p":22},{"s":"día5","t":58.9,"p":180},{"s":"día5","t":59.0,"p":17},{"s":"día5","t":59.1,"p":177},{"s":"día5","t":59.2,"p":20},{"s":"día5","t":59.3,"p":172},{"s":"día5","t":59.4,"p":16},{"s":"día5","t":59.5,"p":168},{"s":"día5","t":59.6,"p":21},{"s":"día5","t":59.7,"p":164},{"s":"día5","t":59.8,"p":18},{"s":"día5","t":59.9,"p":162},{"s":"día5","t":60.0,"p":16},{"s":"día5","t":60.1,"p":158},{"s":"día5","t":60.2,"p":20},{"s":"día5","t":60.3,"p":155},{"s":"día5","t":60.4,"p":17},{"s":"día5","t":60.5,"p":152},{"s":"día5","t":60.6,"p":19},{"s":"día5","t":60.7,"p":148},{"s":"día5","t":60.8,"p":18},{"s":"día5","t":60.9,"p":0},
{"s":"día5","t":68.4,"p":0},{"s":"día5","t":68.5,"p":10},{"s":"día5","t":68.6,"p":0},
{"s":"día5","t":68.87,"p":0},{"s":"día5","t":68.9,"p":212},{"s":"día5","t":69.3,"p":218},{"s":"día5","t":70.0,"p":223},{"s":"día5","t":70.7,"p":226},{"s":"día5","t":71.0,"p":210},{"s":"día5","t":71.4,"p":200},{"s":"día5","t":71.8,"p":186},{"s":"día5","t":72.2,"p":170},{"s":"día5","t":72.5,"p":160},{"s":"día5","t":72.6,"p":130},{"s":"día5","t":72.7,"p":165},{"s":"día5","t":72.8,"p":115},{"s":"día5","t":72.9,"p":158},{"s":"día5","t":73.0,"p":105},{"s":"día5","t":73.1,"p":162},{"s":"día5","t":73.2,"p":95},{"s":"día5","t":73.3,"p":155},{"s":"día5","t":73.4,"p":89},{"s":"día5","t":73.45,"p":120},{"s":"día5","t":73.5,"p":0},
{"s":"día5","t":91.1,"p":0},{"s":"día5","t":91.2,"p":9},{"s":"día5","t":91.3,"p":0},
{"s":"día5","t":91.77,"p":0},{"s":"día5","t":91.8,"p":217},{"s":"día5","t":92.3,"p":221},{"s":"día5","t":93.05,"p":226},{"s":"día5","t":93.3,"p":205},{"s":"día5","t":93.6,"p":185},{"s":"día5","t":93.9,"p":171},{"s":"día5","t":94.2,"p":155},{"s":"día5","t":94.4,"p":147},{"s":"día5","t":94.5,"p":126},{"s":"día5","t":94.6,"p":140},{"s":"día5","t":94.7,"p":115},{"s":"día5","t":94.8,"p":135},{"s":"día5","t":94.9,"p":105},{"s":"día5","t":95.0,"p":128},{"s":"día5","t":95.1,"p":98},{"s":"día5","t":95.2,"p":122},{"s":"día5","t":95.3,"p":90},{"s":"día5","t":95.4,"p":118},{"s":"día5","t":95.5,"p":80},{"s":"día5","t":95.6,"p":112},{"s":"día5","t":95.7,"p":75},{"s":"día5","t":95.8,"p":118},{"s":"día5","t":95.9,"p":70},{"s":"día5","t":96.0,"p":125},{"s":"día5","t":96.1,"p":62},{"s":"día5","t":96.2,"p":122},{"s":"día5","t":96.3,"p":50},{"s":"día5","t":96.4,"p":133},{"s":"día5","t":96.5,"p":45},{"s":"día5","t":96.6,"p":138},{"s":"día5","t":96.7,"p":38},{"s":"día5","t":96.8,"p":145},{"s":"día5","t":96.9,"p":30},{"s":"día5","t":97.0,"p":150},{"s":"día5","t":97.1,"p":22},{"s":"día5","t":97.2,"p":155},{"s":"día5","t":97.3,"p":17},{"s":"día5","t":97.4,"p":140},{"s":"día5","t":97.45,"p":15},{"s":"día5","t":97.5,"p":0},
{"s":"día5","t":111.8,"p":0},{"s":"día5","t":111.9,"p":9},{"s":"día5","t":112.0,"p":0},
{"s":"día5","t":112.27,"p":0},{"s":"día5","t":112.3,"p":209},{"s":"día5","t":112.8,"p":216},{"s":"día5","t":113.4,"p":222},{"s":"día5","t":113.9,"p":226},{"s":"día5","t":114.2,"p":210},{"s":"día5","t":114.5,"p":194},{"s":"día5","t":114.7,"p":186},{"s":"día5","t":114.9,"p":175},{"s":"día5","t":115.1,"p":165},{"s":"día5","t":115.3,"p":156},{"s":"día5","t":115.5,"p":159},{"s":"día5","t":115.6,"p":140},{"s":"día5","t":115.7,"p":163},{"s":"día5","t":115.8,"p":125},{"s":"día5","t":115.9,"p":150},{"s":"día5","t":116.0,"p":118},{"s":"día5","t":116.1,"p":157},{"s":"día5","t":116.2,"p":110},{"s":"día5","t":116.3,"p":148},{"s":"día5","t":116.4,"p":106},{"s":"día5","t":116.5,"p":140},{"s":"día5","t":116.6,"p":0},
{"s":"día5","t":124.97,"p":0},

{"s":"día6","t":-7.55,"p":0},
{"s":"día6","t":14.23,"p":0},{"s":"día6","t":14.26,"p":200},{"s":"día6","t":14.5,"p":206},{"s":"día6","t":14.9,"p":212},{"s":"día6","t":15.3,"p":218},{"s":"día6","t":15.6,"p":222},{"s":"día6","t":15.9,"p":226},{"s":"día6","t":16.0,"p":190},{"s":"día6","t":16.1,"p":221},{"s":"día6","t":16.2,"p":170},{"s":"día6","t":16.3,"p":225},{"s":"día6","t":16.4,"p":150},{"s":"día6","t":16.5,"p":220},{"s":"día6","t":16.6,"p":130},{"s":"día6","t":16.7,"p":226},{"s":"día6","t":16.8,"p":110},{"s":"día6","t":16.9,"p":219},{"s":"día6","t":17.0,"p":90},{"s":"día6","t":17.1,"p":224},{"s":"día6","t":17.2,"p":70},{"s":"día6","t":17.3,"p":218},{"s":"día6","t":17.4,"p":52},{"s":"día6","t":17.5,"p":223},{"s":"día6","t":17.6,"p":40},{"s":"día6","t":17.7,"p":216},{"s":"día6","t":17.8,"p":28},{"s":"día6","t":17.9,"p":220},{"s":"día6","t":18.0,"p":22},{"s":"día6","t":18.1,"p":210},{"s":"día6","t":18.2,"p":19},{"s":"día6","t":18.3,"p":214},{"s":"día6","t":18.4,"p":16},{"s":"día6","t":18.5,"p":205},{"s":"día6","t":18.6,"p":20},{"s":"día6","t":18.7,"p":209},{"s":"día6","t":18.8,"p":15},{"s":"día6","t":18.9,"p":201},{"s":"día6","t":19.0,"p":18},{"s":"día6","t":19.1,"p":204},{"s":"día6","t":19.2,"p":14},{"s":"día6","t":19.3,"p":196},{"s":"día6","t":19.4,"p":22},{"s":"día6","t":19.5,"p":200},{"s":"día6","t":19.6,"p":17},{"s":"día6","t":19.7,"p":192},{"s":"día6","t":19.8,"p":15},{"s":"día6","t":19.9,"p":196},{"s":"día6","t":20.0,"p":19},{"s":"día6","t":20.1,"p":188},{"s":"día6","t":20.2,"p":16},{"s":"día6","t":20.3,"p":192},{"s":"día6","t":20.4,"p":21},{"s":"día6","t":20.5,"p":184},{"s":"día6","t":20.6,"p":15},{"s":"día6","t":20.7,"p":188},{"s":"día6","t":20.8,"p":18},{"s":"día6","t":20.9,"p":180},{"s":"día6","t":21.0,"p":16},{"s":"día6","t":21.1,"p":184},{"s":"día6","t":21.2,"p":17},{"s":"día6","t":21.25,"p":0},
{"s":"día6","t":28.1,"p":0},{"s":"día6","t":28.2,"p":10},{"s":"día6","t":28.3,"p":0},
{"s":"día6","t":28.67,"p":0},{"s":"día6","t":28.7,"p":217},{"s":"día6","t":29.2,"p":222},{"s":"día6","t":29.9,"p":226},{"s":"día6","t":30.2,"p":219},{"s":"día6","t":30.5,"p":208},{"s":"día6","t":30.8,"p":196},{"s":"día6","t":31.1,"p":180},{"s":"día6","t":31.4,"p":162},{"s":"día6","t":31.6,"p":150},{"s":"día6","t":31.8,"p":138},{"s":"día6","t":31.9,"p":125},{"s":"día6","t":32.0,"p":145},{"s":"día6","t":32.1,"p":118},{"s":"día6","t":32.2,"p":140},{"s":"día6","t":32.3,"p":110},{"s":"día6","t":32.4,"p":150},{"s":"día6","t":32.5,"p":103},{"s":"día6","t":32.6,"p":138},{"s":"día6","t":32.7,"p":97},{"s":"día6","t":32.8,"p":142},{"s":"día6","t":32.9,"p":92},{"s":"día6","t":33.0,"p":133},{"s":"día6","t":33.1,"p":85},{"s":"día6","t":33.2,"p":138},{"s":"día6","t":33.3,"p":80},{"s":"día6","t":33.4,"p":130},{"s":"día6","t":33.5,"p":75},{"s":"día6","t":33.6,"p":128},{"s":"día6","t":33.7,"p":68},{"s":"día6","t":33.8,"p":120},{"s":"día6","t":33.85,"p":65},{"s":"día6","t":33.9,"p":0},
{"s":"día6","t":56.7,"p":0},{"s":"día6","t":56.8,"p":6},{"s":"día6","t":56.9,"p":0},
{"s":"día6","t":57.17,"p":0},{"s":"día6","t":57.2,"p":217},{"s":"día6","t":57.7,"p":221},{"s":"día6","t":58.2,"p":224},{"s":"día6","t":58.7,"p":226},{"s":"día6","t":59.0,"p":208},{"s":"día6","t":59.3,"p":190},{"s":"día6","t":59.7,"p":171},{"s":"día6","t":60.0,"p":162},{"s":"día6","t":60.3,"p":150},{"s":"día6","t":60.6,"p":138},{"s":"día6","t":60.9,"p":126},{"s":"día6","t":60.95,"p":0},
{"s":"día6","t":86.5,"p":0},{"s":"día6","t":86.6,"p":5},{"s":"día6","t":86.7,"p":0},
{"s":"día6","t":86.97,"p":0},{"s":"día6","t":87.0,"p":211},{"s":"día6","t":87.4,"p":216},{"s":"día6","t":87.8,"p":220},{"s":"día6","t":88.2,"p":223},{"s":"día6","t":88.4,"p":224},{"s":"día6","t":88.5,"p":200},{"s":"día6","t":88.6,"p":224},{"s":"día6","t":88.7,"p":185},{"s":"día6","t":88.8,"p":226},{"s":"día6","t":88.9,"p":165},{"s":"día6","t":89.0,"p":225},{"s":"día6","t":89.1,"p":148},{"s":"día6","t":89.2,"p":223},{"s":"día6","t":89.3,"p":135},{"s":"día6","t":89.4,"p":222},{"s":"día6","t":89.5,"p":120},{"s":"día6","t":89.6,"p":220},{"s":"día6","t":89.7,"p":106},{"s":"día6","t":89.8,"p":221},{"s":"día6","t":89.9,"p":95},{"s":"día6","t":90.0,"p":216},{"s":"día6","t":90.1,"p":82},{"s":"día6","t":90.2,"p":218},{"s":"día6","t":90.3,"p":66},{"s":"día6","t":90.4,"p":213},{"s":"día6","t":90.5,"p":55},{"s":"día6","t":90.6,"p":215},{"s":"día6","t":90.7,"p":40},{"s":"día6","t":90.8,"p":209},{"s":"día6","t":90.9,"p":30},{"s":"día6","t":91.0,"p":211},{"s":"día6","t":91.1,"p":20},{"s":"día6","t":91.2,"p":204},{"s":"día6","t":91.3,"p":16},{"s":"día6","t":91.4,"p":206},{"s":"día6","t":91.5,"p":18},{"s":"día6","t":91.6,"p":199},{"s":"día6","t":91.7,"p":15},{"s":"día6","t":91.8,"p":196},{"s":"día6","t":91.9,"p":19},{"s":"día6","t":92.0,"p":190},{"s":"día6","t":92.1,"p":14},{"s":"día6","t":92.2,"p":182},{"s":"día6","t":92.3,"p":17},{"s":"día6","t":92.4,"p":172},{"s":"día6","t":92.5,"p":15},{"s":"día6","t":92.55,"p":165},{"s":"día6","t":92.6,"p":0},
{"s":"día6","t":104.17,"p":0},{"s":"día6","t":104.2,"p":214},{"s":"día6","t":104.6,"p":219},{"s":"día6","t":105.2,"p":223},{"s":"día6","t":105.8,"p":227},{"s":"día6","t":106.1,"p":218},{"s":"día6","t":106.4,"p":200},{"s":"día6","t":106.8,"p":182},{"s":"día6","t":107.1,"p":172},{"s":"día6","t":107.4,"p":160},{"s":"día6","t":107.8,"p":147},{"s":"día6","t":108.0,"p":140},{"s":"día6","t":108.2,"p":132},{"s":"día6","t":108.3,"p":126},{"s":"día6","t":108.4,"p":130},{"s":"día6","t":108.5,"p":120},{"s":"día6","t":108.55,"p":0},
{"s":"día6","t":124.97,"p":0},

{"s":"día7","t":-7.55,"p":0},{"s":"día7","t":124.97,"p":0}
]},
"encoding":{
"y":{"field":"p","type":"quantitative","scale":{"domain":[0,230],"nice":false,"zero":true},"axis":{"values":[0,50,100,150,200],"labelPadding":20,"title":"Pbus (kW)","titleX":-60,"titleY":326.3,"titleAngle":-90,"titleBaseline":"middle","titleAlign":"center"}},
"color":{"field":"s","type":"nominal","scale":{"domain":["día1","día2","día3","día4","día5","día6","día7"],"range":["#0072BD","#D95319","#EDB120","#7E2F8E","#77AC30","#4DBEEE","#A2142F"]},"legend":{"orient":"none","legendX":985,"legendY":471.3,"title":null,"direction":"vertical","symbolType":"M-2.9,0H2.9","symbolSize":400,"symbolStrokeWidth":1.5,"symbolOffset":18,"labelOffset":21,"labelFontSize":18,"labelFont":"Liberation Sans","labelColor":"#000000","rowPadding":4,"padding":6,"strokeColor":"#262626","fillColor":"#ffffff","cornerRadius":0}}
},
"layer":[
{"transform":[{"filter":"datum.s==='día1'"}],"mark":{"type":"line","strokeWidth":1.3,"clip":true},"encoding":{"x":{"field":"t","type":"quantitative","scale":{"domain":[-7.55,124.97],"nice":false,"zero":false},"axis":{"values":[0,10,20,30,40,50,60,70,80,90,100,110,120],"labelExpr":"datum.value==10?'09:09':(datum.value<60?'09:':(datum.value<120?'10:':'11:'))+(datum.value%60<10?'0':'')+(datum.value%60)","labelPadding":38,"labelBaseline":"alphabetic","labelFlush":false,"title":"hora","titleX":552.3,"titleY":54,"titleBaseline":"alphabetic","titleAlign":"center"}}}},
{"transform":[{"filter":"datum.s==='día2'"}],"mark":{"type":"line","strokeWidth":1.3,"clip":true},"encoding":{"x":{"field":"t","type":"quantitative","scale":{"domain":[-7.55,124.97],"nice":false,"zero":false},"axis":null}}},
{"transform":[{"filter":"datum.s==='día3'"}],"mark":{"type":"line","strokeWidth":1.3,"clip":true},"encoding":{"x":{"field":"t","type":"quantitative","scale":{"domain":[-7.55,124.97],"nice":false,"zero":false},"axis":null}}},
{"transform":[{"filter":"datum.s==='día4'"}],"mark":{"type":"line","strokeWidth":1.3,"clip":true},"encoding":{"x":{"field":"t","type":"quantitative","scale":{"domain":[-7.55,124.97],"nice":false,"zero":false},"axis":null}}},
{"transform":[{"filter":"datum.s==='día5'"}],"mark":{"type":"line","strokeWidth":1.3,"clip":true},"encoding":{"x":{"field":"t","type":"quantitative","scale":{"domain":[-7.55,124.97],"nice":false,"zero":false},"axis":null}}},
{"transform":[{"filter":"datum.s==='día6'"}],"mark":{"type":"line","strokeWidth":1.3,"clip":true},"encoding":{"x":{"field":"t","type":"quantitative","scale":{"domain":[-7.55,124.97],"nice":false,"zero":false},"axis":null}}},
{"transform":[{"filter":"datum.s==='día7'"}],"mark":{"type":"line","strokeWidth":1.3,"clip":true},"encoding":{"x":{"field":"t","type":"quantitative","scale":{"domain":[-7.55,124.97],"nice":false,"zero":false},"axis":{"orient":"top","values":[0,10,20,30,40,50,60,70,80,90,100,110,120],"labels":false,"title":null}}}}
],
"resolve":{"axis":{"x":"independent"}},
"config":{
"view":{"stroke":null},
"axis":{"grid":false,"domainColor":"#262626","tickColor":"#262626","labelColor":"#262626","titleColor":"#262626","labelFont":"Liberation Sans","titleFont":"Liberation Sans","labelFontSize":18.8,"titleFontSize":20.5,"titleFontWeight":"normal","tickSize":-11,"domainWidth":1,"tickWidth":1}
}
}
